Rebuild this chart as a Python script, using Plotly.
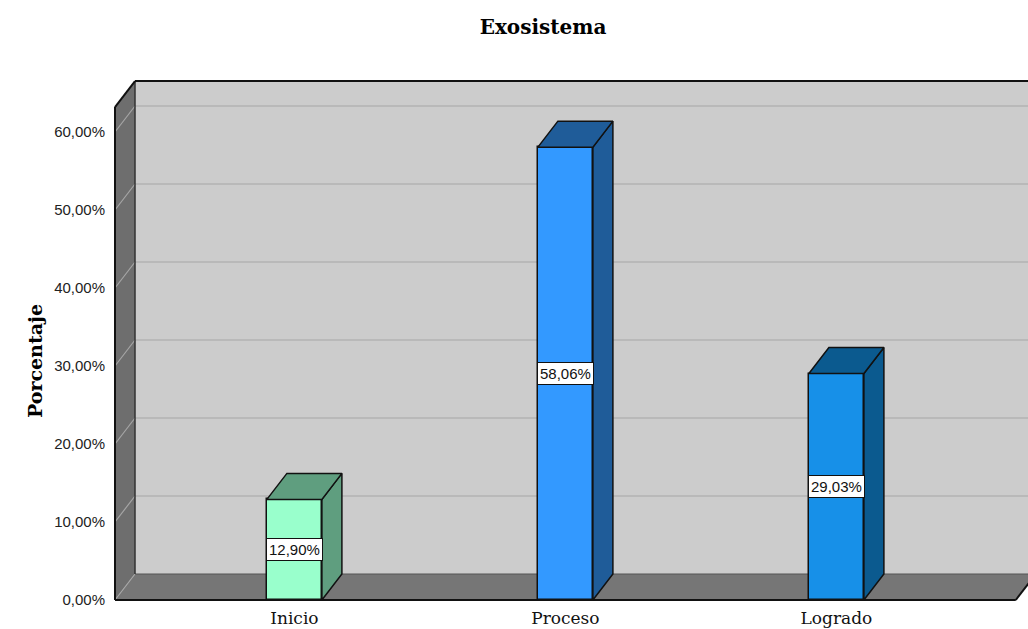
import plotly.graph_objects as go

categories = ["Inicio", "Proceso", "Logrado"]
values = [12.90, 58.06, 29.03]
value_labels = ["12,90%", "58,06%", "29,03%"]
y_ticks = [0, 10, 20, 30, 40, 50, 60]
y_tick_text = ["0,00%", "10,00%", "20,00%", "30,00%", "40,00%", "50,00%", "60,00%"]
front_colors = ["#99ffcc", "#3399ff", "#1790e8"]
side_colors = ["#5f9e7f", "#1f5c99", "#0b5a8f"]

W, H = 1028, 629
ml, mr, mt, mb = 95, 0, 70, 20
PXX = 271.0   # px per category unit
PXY = 7.8     # px per percent
DX = 20 / PXX
DY = 26 / PXY
XL, XR = -0.662, 2.662
YT = 63.2
HW = 55 / 2 / PXX

x0 = XL - (115 - ml) / PXX
x1 = x0 + (W - ml - mr) / PXX
y0 = -((H - mb) - 600) / PXY
y1 = (600 - mt) / PXY

fig = go.Figure()

shapes = []
def poly(pts, fill, line=None, width=0):
    d = "M " + " L ".join(f"{x},{y}" for x, y in pts) + " Z"
    s = dict(type="path", path=d, xref="x", yref="y", fillcolor=fill, layer="below",
             line=dict(width=width, color=line or fill))
    shapes.append(s)

def seg(a, b, color, width):
    shapes.append(dict(type="line", x0=a[0], y0=a[1], x1=b[0], y1=b[1], xref="x", yref="y",
                       layer="below", line=dict(color=color, width=width)))

# back wall
poly([(XL + DX, DY), (XR + DX, DY), (XR + DX, YT + DY), (XL + DX, YT + DY)], "#cccccc")
# floor
poly([(XL, 0), (XR, 0), (XR + DX, DY), (XL + DX, DY)], "#767676")
# side wall
poly([(XL, 0), (XL + DX, DY), (XL + DX, YT + DY), (XL, YT)], "#6e6e6e")
# gridlines
for v in y_ticks[1:]:
    seg((XL + DX, v + DY), (XR + DX, v + DY), "#b3b3b3", 1.5)
    seg((XL, v), (XL + DX, v + DY), "#a6a6a6", 1.2)
seg((XL, 0), (XL + DX, DY), "#a6a6a6", 1.2)
# edges
seg((XL + DX, DY), (XR + DX, DY), "#555555", 1)
seg((XL + DX, DY), (XL + DX, YT + DY), "#333333", 1.5)
seg((XL, 0), (XL, YT), "#111111", 2)
seg((XL, YT), (XL + DX, YT + DY), "#111111", 2)
seg((XL + DX, YT + DY), (XR + DX, YT + DY), "#111111", 2)
seg((XL, 0), (XR, 0), "#111111", 2)
seg((XR, 0), (XR + DX, DY), "#111111", 2)

xs = list(range(len(categories)))

fig.add_trace(go.Bar(x=xs, y=values, width=2 * HW,
                     marker=dict(color=front_colors, line=dict(color="#111111", width=1.5)),
                     hoverinfo="skip", showlegend=False))

for i, v in enumerate(values):
    side_x = [i + HW, i + HW + DX, i + HW + DX, i + HW, i + HW]
    side_y = [0, DY, v + DY, v, 0]
    fig.add_trace(go.Scatter(x=side_x, y=side_y, fill="toself", fillcolor=side_colors[i],
                             mode="lines", line=dict(color="#111111", width=1.5),
                             hoverinfo="skip", showlegend=False))
    top_x = [i - HW, i + HW, i + HW + DX, i - HW + DX, i - HW]
    top_y = [v, v, v + DY, v + DY, v]
    fig.add_trace(go.Scatter(x=top_x, y=top_y, fill="toself", fillcolor=side_colors[i],
                             mode="lines", line=dict(color="#111111", width=1.5),
                             hoverinfo="skip", showlegend=False))

pw = W - ml - mr
ph = H - mt - mb

annotations = []
for i, (v, t) in enumerate(zip(values, value_labels)):
    annotations.append(dict(x=i, y=v / 2, xref="x", yref="y", text=t, showarrow=False,
                            font=dict(family="Liberation Sans, Arial", size=15, color="#111111"),
                            bgcolor="white", bordercolor="#111111", borderwidth=1, borderpad=2))

annotations.append(dict(x=(22 - ml) / pw, y=((H - mb) - 361) / ph, xref="paper", yref="paper",
                        text="<b>Porcentaje</b>", showarrow=False, textangle=-90,
                        font=dict(family="DejaVu Serif", size=19, color="#000000")))

fig.update_layout(
    width=W, height=H,
    margin=dict(l=ml, r=mr, t=mt, b=mb, pad=0, autoexpand=False),
    paper_bgcolor="white", plot_bgcolor="white",
    shapes=shapes, annotations=annotations,
    title=dict(text="<b>Exosistema</b>", x=543 / W, xref="container", xanchor="center",
               y=1 - 27 / H, yref="container", yanchor="middle",
               font=dict(family="DejaVu Serif", size=20, color="#000000")),
    xaxis=dict(range=[x0, x1], tickvals=xs, ticktext=categories, showgrid=False,
               zeroline=False, showline=False, ticks="", fixedrange=True, automargin=False,
               tickfont=dict(family="DejaVu Serif", size=17, color="#111111"),
               ticklabelstandoff=-3),
    yaxis=dict(range=[y0, y1], tickvals=y_ticks, ticktext=y_tick_text, showgrid=False,
               zeroline=False, showline=False, ticks="", anchor="free",
               position=(115 - ml) / pw, fixedrange=True, automargin=False,
               tickfont=dict(family="Liberation Sans, Arial", size=15, color="#222222"),
               ticklabelstandoff=10),
    bargap=0,
)

fig.write_html("out.html")
